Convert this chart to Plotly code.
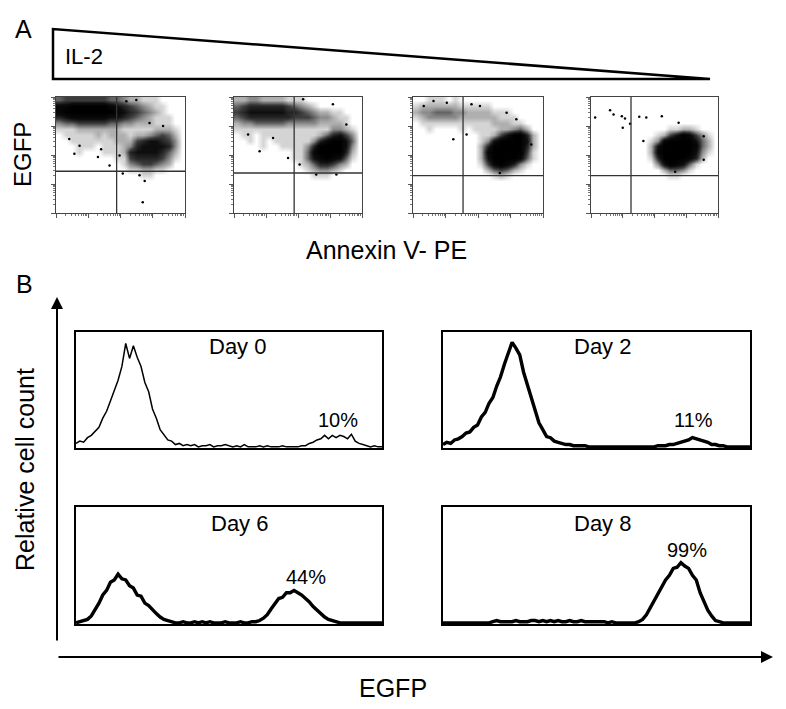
import plotly.graph_objects as go

# ---------------- DATA ----------------
# Panel A: flow cytometry dot plots (log decades 0-4), density (0=none, 9=solid)
# rows listed from top (EGFP 3.9) downward, columns Annexin V 0.1 ... 3.9
DENSITY_1 = [
    "45555555443221110000", "88999999876543211000", "89999999987654321000",
    "67888888776543211100", "34455555443322211100", "11122222221111122210",
    "01111121222122345420", "00111111122256776530", "00011101112367777630",
    "00010001112677776420", "00000000011566665310", "00000000001345543200",
    "00000000000112211000", "00000000000001100000",
]
DENSITY_2 = [
    "22332222111000000000", "45666666543210000000", "56777777665432211000",
    "45666666655543321100", "23344444333332222100", "11111111111111133210",
    "01101111111112467530", "00101011111136899740", "00001001111369999730",
    "00000000011489999620", "00000000011478987410", "00000000001246653200",
    "00000000000123321000", "00000000000011100000",
]
DENSITY_3 = [
    "00111010000000000000", "12222221111100000000", "23344433222211100000",
    "12333332222221110000", "01111111111122211000", "00100001011112234200",
    "00000000001125799620", "00000000001379999720", "00000000002699999620",
    "00000000002899999510", "00000000002799998410", "00000000001589863100",
    "00000000000245421000", "00000000000012100000",
]
DENSITY_4 = [
    "00000000000000000000", "00000000000000000000", "00000000000000000000",
    "00000000000000000000", "00000000000000000000", "00000000000011221000",
    "00000000001257985310", "00000000013899997420", "00000000027999998420",
    "00000000028999997310", "00000000016999986200", "00000000003798741000",
    "00000000000244310000", "00000000000011000000",
]
GRID_CENTERS = [0.1, 0.3, 0.5, 0.7, 0.9, 1.1, 1.3, 1.5, 1.7, 1.9,
                2.1, 2.3, 2.5, 2.7, 2.9, 3.1, 3.3, 3.5, 3.7, 3.9]

# isolated dots (Annexin V, EGFP) in log decades
OUT_X = [
    [0.57, 1.30, 1.66, 2.07, 2.59, 2.75, 2.69, 0.73, 0.41, 1.40, 1.97, 2.90, 3.32, 2.18, 2.49],
    [0.80, 1.22, 1.69, 2.05, 2.57, 3.20, 0.44, 3.09, 2.16, 3.51],
    [0.33, 0.63, 1.04, 2.06, 1.24, 2.67, 2.88, 3.18, 3.64, 1.65, 1.80],
    [0.13, 0.60, 0.71, 0.97, 1.07, 1.00, 1.23, 1.52, 1.74, 2.23, 1.65, 2.76, 3.55, 3.55, 2.65],
]
OUT_Y = [
    [2.04, 1.93, 1.64, 1.36, 1.30, 1.10, 0.37, 2.32, 2.55, 2.20, 1.98, 3.10, 3.00, 3.85, 3.90],
    [2.13, 2.59, 1.90, 1.67, 1.33, 1.33, 2.71, 3.75, 3.92, 3.05],
    [3.69, 3.86, 3.80, 3.69, 2.54, 1.38, 3.46, 3.23, 2.36, 2.71, 3.75],
    [3.29, 3.54, 3.40, 3.34, 3.26, 2.94, 3.08, 3.32, 3.29, 3.34, 2.48, 3.11, 2.65, 1.84, 1.42],
]
GATE_X = [1.88, 1.88, 1.54, 1.26]
GATE_Y = [1.44, 1.38, 1.29, 1.29]

# Panel B: EGFP histograms, bins every 0.05 decade from 0 to 4
DAYS = ["Day 0", "Day 2", "Day 6", "Day 8"]
PERCENTS = ["10%", "11%", "44%", "99%"]
HIST_DAY0 = [3, 5, 4, 8, 10, 14, 17, 25, 31, 40,
             49, 58, 70, 90, 77, 88, 78, 70, 56, 48,
             33, 25, 15, 11, 6, 5, 2, 3, 1, 2,
             1, 2, 0, 1, 1, 2, 0, 1, 1, 2,
             1, 0, 1, 0, 2, 0, 0, 0, 1, 0,
             1, 0, 0, 0, 1, 0, 0, 0, 0, 1,
             1, 3, 4, 6, 7, 10, 7, 10, 8, 10,
             9, 7, 11, 5, 3, 2, 1, 0, 1, 0, 0]
HIST_DAY2 = [2, 4, 3, 6, 7, 9, 12, 13, 17, 19,
             26, 30, 38, 43, 53, 61, 72, 81, 91, 86,
             80, 65, 54, 41, 32, 21, 15, 9, 8, 5,
             4, 3, 2, 2, 1, 1, 1, 1, 0, 0,
             0, 0, 0, 0, 0, 0, 0, 0, 0, 0,
             0, 0, 0, 0, 0, 0, 1, 1, 1, 2,
             2, 3, 4, 5, 6, 8, 7, 6, 5, 4,
             2, 2, 1, 1, 0, 0, 0, 0, 0, 0, 0]
HIST_DAY6 = [0, 1, 2, 3, 6, 11, 17, 24, 28, 35,
             37, 42, 38, 37, 32, 30, 24, 23, 17, 15,
             11, 8, 5, 3, 2, 1, 0, 0, 1, 0,
             0, 1, 0, 1, 0, 1, 0, 0, 0, 1,
             0, 0, 0, 1, 0, 0, 1, 1, 2, 4,
             7, 12, 16, 21, 22, 26, 26, 28, 26, 24,
             21, 18, 14, 11, 8, 5, 3, 2, 1, 0,
             0, 0, 0, 0, 0, 0, 0, 0, 0, 0, 0]
HIST_DAY8 = [0, 0, 0, 0, 0, 0, 0, 0, 0, 0,
             0, 0, 0, 1, 2, 1, 1, 1, 1, 2,
             1, 1, 1, 2, 2, 1, 2, 1, 2, 1,
             2, 1, 1, 2, 1, 1, 2, 1, 1, 1,
             1, 1, 1, 0, 1, 0, 0, 0, 0, 0,
             0, 1, 3, 7, 13, 20, 26, 31, 37, 41,
             47, 48, 52, 49, 47, 41, 37, 26, 19, 11,
             6, 2, 1, 0, 0, 0, 0, 0, 0, 0, 0]
HISTS = [HIST_DAY0, HIST_DAY2, HIST_DAY6, HIST_DAY8]
DAY_LABEL_POS = [(2.11, 87), (2.08, 87), (2.14, 86), (2.08, 86)]
PCT_LABEL_POS = [(3.43, 23), (3.26, 23), (3.01, 40), (3.18, 63)]

# ---------------- LAYOUT HELPERS ----------------
W, H = 786, 709
FONT = "Liberation Sans, Arial, Helvetica, sans-serif"


def fx(x):
    return x / W


def fy(y):
    return 1 - y / H


SC_DOM_X = [(56, 185), (234, 362), (413, 543), (591, 718)]
SC_DOM_Y = (97, 213)
HI_DOM = [((76, 382), (332, 448)), ((443, 750), (332, 448)),
          ((76, 382), (507, 624)), ((443, 750), (507, 624))]

MINOR = [d + v for d in range(4) for v in (0.301, 0.477, 0.602, 0.699, 0.778, 0.845, 0.903, 0.954)]

fig = go.Figure()
layout = dict(width=W, height=H, margin=dict(l=0, r=0, t=0, b=0),
              paper_bgcolor="white", plot_bgcolor="white", showlegend=False,
              font=dict(family=FONT, color="black"))

CSCALE = [[0, "#ffffff"], [0.111, "#d4d4d4"], [0.333, "#8a8a8a"],
          [0.556, "#3c3c3c"], [0.778, "#0e0e0e"], [1, "#000000"]]

shapes = []
annotations = []
densities = [DENSITY_1, DENSITY_2, DENSITY_3, DENSITY_4]
for k in range(4):
    n = k + 1
    rows = densities[k] + ["0" * 20] * (20 - len(densities[k]))
    z = [[int(c) for c in r] for r in reversed(rows)]
    fig.add_trace(go.Heatmap(z=z, x=GRID_CENTERS, y=GRID_CENTERS, zmin=0, zmax=9,
                             colorscale=CSCALE, showscale=False, zsmooth="best",
                             hoverinfo="skip", xaxis=f"x{n}", yaxis=f"y{n}"))
    fig.add_trace(go.Scatter(x=OUT_X[k], y=OUT_Y[k], mode="markers",
                             marker=dict(size=2.5, color="black"),
                             xaxis=f"x{n}", yaxis=f"y{n}", hoverinfo="skip"))
    ax = dict(domain=[fx(SC_DOM_X[k][0]), fx(SC_DOM_X[k][1])], range=[0, 4],
              anchor=f"y{n}", showgrid=False, zeroline=False, showline=True,
              mirror=True, linecolor="#444", linewidth=1, ticks="outside",
              tickvals=[0, 1, 2, 3, 4], ticklen=4, tickcolor="#555", showticklabels=False,
              minor=dict(tickmode="array", tickvals=MINOR, ticklen=2, ticks="outside",
                         tickcolor="#777", showgrid=False))
    ay = dict(ax)
    ay.update(domain=[fy(SC_DOM_Y[1]), fy(SC_DOM_Y[0])], anchor=f"x{n}")
    layout[f"xaxis{n}"] = ax
    layout[f"yaxis{n}"] = ay
    shapes.append(dict(type="line", xref=f"x{n}", yref=f"y{n}", x0=GATE_X[k], x1=GATE_X[k],
                       y0=0, y1=4, line=dict(color="#333", width=1.3)))
    shapes.append(dict(type="line", xref=f"x{n}", yref=f"y{n}", x0=0, x1=4,
                       y0=GATE_Y[k], y1=GATE_Y[k], line=dict(color="#333", width=1.3)))

for k in range(4):
    n = k + 5
    vals = HISTS[k]
    xs = [round(i * 0.05, 2) for i in range(len(vals))]
    fig.add_trace(go.Scatter(x=xs, y=vals, mode="lines",
                             line=dict(color="black", width=1.5 if k == 0 else 3.4),
                             xaxis=f"x{n}", yaxis=f"y{n}", hoverinfo="skip"))
    (x0, x1), (y0, y1) = HI_DOM[k]
    base = dict(showgrid=False, zeroline=False, showline=True, mirror=True,
                linecolor="black", linewidth=2, ticks="", showticklabels=False)
    layout[f"xaxis{n}"] = dict(base, domain=[fx(x0), fx(x1)], range=[0, 4], anchor=f"y{n}")
    layout[f"yaxis{n}"] = dict(base, domain=[fy(y1), fy(y0)], range=[-1, 100], anchor=f"x{n}")
    annotations.append(dict(text=DAYS[k], x=DAY_LABEL_POS[k][0], y=DAY_LABEL_POS[k][1],
                            xref=f"x{n}", yref=f"y{n}", showarrow=False,
                            xanchor="center", yanchor="middle",
                            font=dict(size=22, family=FONT)))
    annotations.append(dict(text=PERCENTS[k], x=PCT_LABEL_POS[k][0], y=PCT_LABEL_POS[k][1],
                            xref=f"x{n}", yref=f"y{n}", showarrow=False,
                            xanchor="center", yanchor="middle",
                            font=dict(size=20, family=FONT)))

# IL-2 gradient triangle
shapes.append(dict(type="path", xref="paper", yref="paper",
                   path=f"M {fx(53)},{fy(29)} L {fx(53)},{fy(79)} L {fx(710)},{fy(79)} Z",
                   line=dict(color="black", width=2.5), fillcolor="white"))


def label(text, x, y, size, angle=0):
    annotations.append(dict(text=text, x=fx(x), y=fy(y), xref="paper", yref="paper",
                            showarrow=False, textangle=angle,
                            xanchor="center", yanchor="middle",
                            font=dict(size=size, family=FONT)))


label("A", 23, 29, 25)
label("IL-2", 84, 57, 22)
label("EGFP", 22, 155, 24, -90)
label("Annexin V- PE", 386, 250, 25)
label("B", 24, 284, 25)
label("Relative cell count", 25, 470, 25, -90)
label("EGFP", 393, 688, 25)

# axis arrows of panel B
annotations.append(dict(x=fx(57), y=fy(297), xref="paper", yref="paper", text="",
                        showarrow=True, ax=0, ay=345, arrowhead=2, arrowsize=1.2,
                        arrowwidth=2, arrowcolor="black"))
annotations.append(dict(x=fx(773), y=fy(657), xref="paper", yref="paper", text="",
                        showarrow=True, ax=-716, ay=0, arrowhead=2, arrowsize=1.2,
                        arrowwidth=2, arrowcolor="black"))

layout["shapes"] = shapes
layout["annotations"] = annotations
fig.update_layout(**layout)
fig.write_html("out.html", config={"displayModeBar": False},
               post_script="document.body.style.margin='0px';")
